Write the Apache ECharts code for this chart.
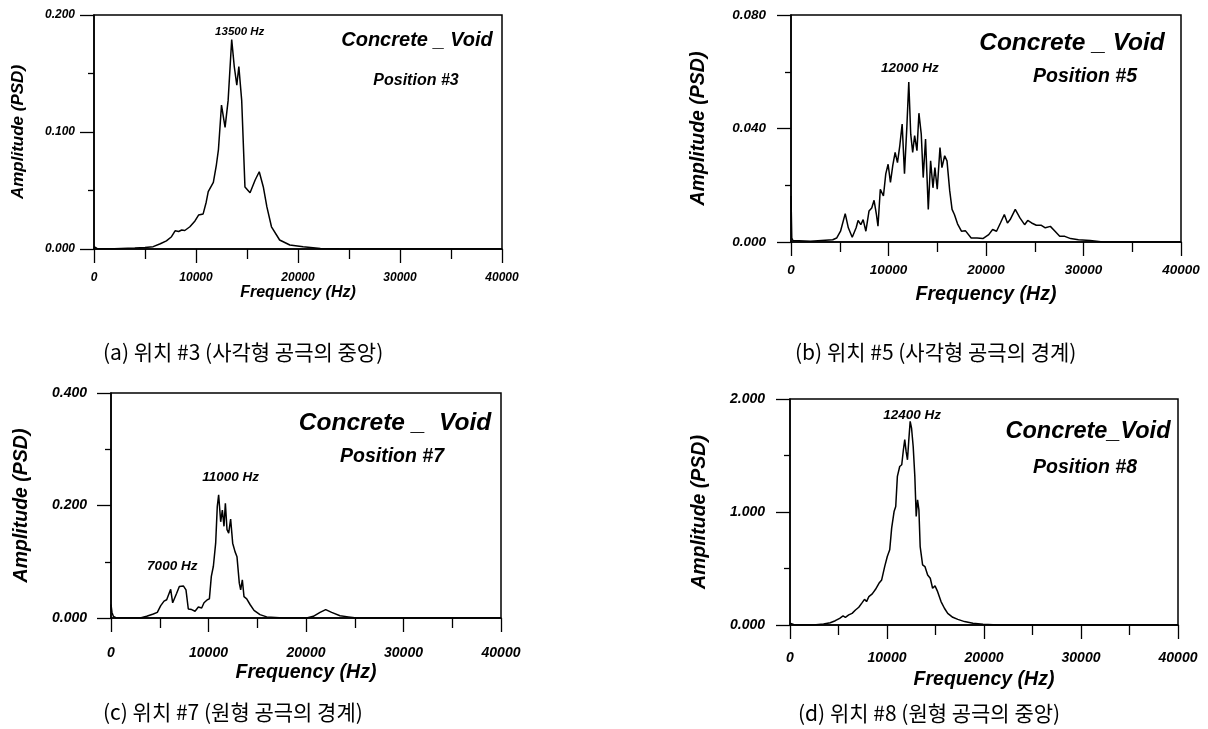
<!DOCTYPE html>
<html>
<head>
<meta charset="utf-8">
<script src="https://cdn.jsdelivr.net/npm/echarts@6/dist/echarts.min.js"></script>
<style>
  html, body { margin: 0; padding: 0; background: #fff; }
  #chart { width: 1208px; height: 729px; }
</style>
</head>
<body>
<div id="chart"></div>
<script>
// (a) position #3
const freqA = [0, 300, 2000, 4000, 5000, 5800, 6500, 7100, 7600, 7950, 8300, 8600, 8900, 9400, 9900,
  10250, 10700, 11000, 11200, 11700, 12000, 12200, 12500, 12850, 13150, 13500, 13750, 14000, 14200, 14480,
  14800, 15300, 15800, 16200, 16600, 16950, 17400, 18200, 19200, 20500, 22200, 24000, 30000, 40000]
const psdA = [0.002, 0.0005, 0.0003, 0.0008, 0.0012, 0.002, 0.0045, 0.007, 0.0105, 0.0155, 0.015, 0.0162, 0.0158, 0.019, 0.024,
  0.029, 0.030, 0.040, 0.049, 0.057, 0.072, 0.085, 0.123, 0.104, 0.127, 0.179, 0.156, 0.140, 0.156, 0.127,
  0.053, 0.048, 0.059, 0.066, 0.053, 0.036, 0.019, 0.0077, 0.0034, 0.002, 0.0005, 0.0002, 0, 0]

// (b) position #5
const freqB = [0, 80, 200, 400, 2000, 4280, 4680, 5080, 5560, 5880,
  6280, 6680, 6880, 7160, 7400, 7680, 8000, 8280, 8520, 8760,
  8920, 9160, 9480, 9720, 9960, 10200, 10440, 10680, 10920, 11160,
  11400, 11640, 11880, 12080, 12280, 12480, 12680, 12920, 13120, 13360,
  13560, 13800, 14080, 14320, 14560, 14760, 15000, 15280, 15480, 15760,
  16000, 16280, 16520, 16760, 17080, 17480, 17880, 18480, 19080, 19680,
  20280, 20680, 21080, 21480, 21880, 22200, 22480, 23000, 23480, 23960,
  24280, 24680, 25160, 25680, 26080, 26600, 27080, 27560, 28080, 28680,
  29480, 30680, 32000, 40000]
const psdB = [0.0162, 0.0014, 0.0005, 0.0003, 0.0003, 0.0008, 0.0014, 0.0038, 0.0100, 0.0050,
  0.0017, 0.0050, 0.0076, 0.0061, 0.0079, 0.0038, 0.0109, 0.0120, 0.0147, 0.0097,
  0.0056, 0.0186, 0.0162, 0.0240, 0.0274, 0.0210, 0.0270, 0.0316, 0.0280, 0.0340,
  0.0416, 0.0241, 0.0404, 0.0564, 0.0380, 0.0316, 0.0375, 0.0322, 0.0454, 0.0380,
  0.0227, 0.0363, 0.0115, 0.0286, 0.0191, 0.0262, 0.0186, 0.0333, 0.0262, 0.0304,
  0.0286, 0.0180, 0.0115, 0.0097, 0.0064, 0.0038, 0.0040, 0.0014, 0.0014, 0.0012,
  0.0026, 0.0044, 0.0038, 0.0067, 0.0097, 0.0067, 0.0079, 0.0115, 0.0085, 0.0061,
  0.0076, 0.0067, 0.0059, 0.0059, 0.0050, 0.0055, 0.0038, 0.0020, 0.0020, 0.0012,
  0.0008, 0.0005, 0, 0]

// (c) position #7
const freqC = [0, 100, 240, 500, 3000, 3660, 4340, 4750, 5100, 5440,
  5710, 5880, 6120, 6325, 6500, 6735, 7010, 7420, 7690, 7930,
  8275, 8620, 8960, 9300, 9540, 9880, 10090, 10290, 10500, 10735,
  10900, 11040, 11250, 11420, 11590, 11730, 11900, 12070, 12270, 12480,
  12720, 12920, 13160, 13300, 13470, 13640, 13920, 14260, 14670, 15280,
  15970, 17700, 20070, 20750, 21440, 22020, 22630, 23490, 24340, 25200, 40000]
const psdC = [0.024, 0.010, 0.003, 0.0005, 0, 0.003, 0.007, 0.010, 0.022, 0.030,
  0.0325, 0.030, 0.051, 0.027, 0.024, 0.044, 0.056, 0.057, 0.050, 0.016,
  0.015, 0.012, 0.0195, 0.0177, 0.027, 0.0325, 0.034, 0.074, 0.092, 0.133,
  0.198, 0.219, 0.171, 0.192, 0.163, 0.204, 0.157, 0.151, 0.176, 0.133,
  0.118, 0.109, 0.062, 0.050, 0.068, 0.038, 0.034, 0.024, 0.0136, 0.006,
  0.002, 0, 0, 0.003, 0.010, 0.015, 0.010, 0.004, 0.002, 0, 0]

// (d) position #8
const freqD = [0, 200, 500, 2420, 3460, 4150, 4670, 5120, 5470, 5710,
  6055, 6400, 6750, 7090, 7440, 7680, 7890, 8130, 8480, 8820,
  9170, 9450, 9760, 10030, 10280, 10480, 10730, 10900, 11070, 11310,
  11520, 11690, 11830, 11970, 12110, 12250, 12390, 12530, 12700, 12870,
  13010, 13150, 13290, 13420, 13670, 13910, 14190, 14460, 14700, 14950,
  15220, 15570, 15920, 16260, 16780, 17300, 17990, 18860, 19900, 21450, 40000]
const psdD = [0.015, 0.005, 0, 0, 0.009, 0.020, 0.038, 0.059, 0.080, 0.068,
  0.089, 0.103, 0.133, 0.157, 0.198, 0.227, 0.207, 0.251, 0.275, 0.316,
  0.369, 0.399, 0.517, 0.606, 0.665, 0.857, 1.004, 1.049, 1.315, 1.403,
  1.418, 1.551, 1.640, 1.536, 1.462, 1.640, 1.802, 1.743, 1.580, 1.315,
  0.960, 1.108, 1.019, 0.694, 0.532, 0.517, 0.443, 0.414, 0.325, 0.346,
  0.295, 0.207, 0.148, 0.103, 0.068, 0.050, 0.030, 0.015, 0.006, 0, 0]

// peak annotations [freq, psd, label]
const peaksA = [[13500, 0.179, '13500 Hz']]
const peaksB = [[12080, 0.0564, '12000 Hz']]
const peaksC = [[11040, 0.219, '11000 Hz'], [7000, 0.056, '7000 Hz']]
const peaksD = [[12390, 1.802, '12400 Hz']]

const yMax = [0.2, 0.08, 0.4, 2.0]
const yStep = [0.1, 0.04, 0.2, 1.0]
const titles = ['Concrete _ Void', 'Concrete _ Void', 'Concrete _  Void', 'Concrete_Void']
const positions = ['Position #3', 'Position #5', 'Position #7', 'Position #8']
const captions = ['(a) 위치 #3 (사각형 공극의 중앙)', '(b) 위치 #5 (사각형 공극의 경계)',
  '(c) 위치 #7 (원형 공극의 경계)', '(d) 위치 #8 (원형 공극의 중앙)']

const FONT = '"Liberation Sans", Arial, sans-serif'

// layout of the 4 panels (pixels)
const panels = [
  { grid: { left: 94, top: 15, width: 408, height: 234 }, tick: 12, xName: 16, yName: 17, xGap: 36, yGap: 67, xMargin: 23, yMargin: 19,
    peakSize: 11.5, peakOff: [[8, -8]], tSize: 20, tPos: [417, 40], pSize: 16, pPos: [416, 81], cap: [103, 352] },
  { grid: { left: 791, top: 15, width: 390, height: 227 }, tick: 13.5, xName: 19.5, yName: 19.5, xGap: 43, yGap: 82, xMargin: 21, yMargin: 25,
    peakSize: 13.5, peakOff: [[1, -14]], tSize: 24.5, tPos: [1072, 43], pSize: 19.5, pPos: [1085, 77], cap: [795, 352] },
  { grid: { left: 111, top: 393, width: 390, height: 225 }, tick: 14, xName: 19.5, yName: 19.5, xGap: 45, yGap: 79, xMargin: 28, yMargin: 24,
    peakSize: 13.5, peakOff: [[12, -18], [-7, -20]], tSize: 24.5, tPos: [395, 423], pSize: 19.5, pPos: [392, 457], cap: [103, 712] },
  { grid: { left: 790, top: 399, width: 388, height: 226 }, tick: 14, xName: 19.5, yName: 19.5, xGap: 45, yGap: 80, xMargin: 26, yMargin: 25,
    peakSize: 13.5, peakOff: [[2, -6]], tSize: 23.5, tPos: [1088, 432], pSize: 19.5, pPos: [1085, 468], cap: [798, 713] }
]

const freqs = [freqA, freqB, freqC, freqD]
const psds = [psdA, psdB, psdC, psdD]
const peaks = [peaksA, peaksB, peaksC, peaksD]

function labelStyle(size) {
  return { color: '#000', fontStyle: 'italic', fontWeight: 'bold', fontFamily: FONT, fontSize: size }
}

let myChart = echarts.init(document.getElementById('chart'))

const grids = [], xAxes = [], yAxes = [], series = [], graphics = []
panels.forEach(function (p, i) {
  grids.push(Object.assign({ show: true, borderColor: '#000', borderWidth: 1.5, backgroundColor: 'transparent' }, p.grid))
  xAxes.push({
    gridIndex: i, type: 'value', min: 0, max: 40000, interval: 10000,
    name: 'Frequency (Hz)', nameLocation: 'middle', nameGap: p.xGap, nameTextStyle: labelStyle(p.xName),
    axisLine: { lineStyle: { color: '#000', width: 1.5 } },
    axisTick: { show: true, length: 14, lineStyle: { color: '#000', width: 1.3 } },
    minorTick: { show: true, splitNumber: 2, length: 10, lineStyle: { color: '#000', width: 1.3 } },
    axisLabel: Object.assign(labelStyle(p.tick), { margin: p.xMargin, formatter: function (v) { return String(v) } }),
    splitLine: { show: false }
  })
  yAxes.push({
    gridIndex: i, type: 'value', min: 0, max: yMax[i], interval: yStep[i],
    name: 'Amplitude (PSD)', nameLocation: 'middle', nameGap: p.yGap, nameTextStyle: labelStyle(p.yName),
    axisLine: { show: true, lineStyle: { color: '#000', width: 1.5 } },
    axisTick: { show: true, length: 14, lineStyle: { color: '#000', width: 1.3 } },
    minorTick: { show: true, splitNumber: 2, length: 6, lineStyle: { color: '#000', width: 1.3 } },
    axisLabel: Object.assign(labelStyle(p.tick), { margin: p.yMargin, formatter: function (v) { return v.toFixed(3) } }),
    splitLine: { show: false }
  })
  series.push({
    type: 'line', xAxisIndex: i, yAxisIndex: i, showSymbol: false, smooth: false,
    data: freqs[i].map(function (f, k) { return [f, psds[i][k]] }),
    lineStyle: { color: '#000', width: 1.5 },
    markPoint: {
      symbol: 'circle', symbolSize: 0, silent: true,
      label: Object.assign(labelStyle(p.peakSize), { show: true, position: 'inside', formatter: '{b}' }),
      data: peaks[i].map(function (pk, k) {
        return { name: pk[2], coord: [pk[0], pk[1]], label: { offset: p.peakOff[k] } }
      })
    }
  })
  graphics.push({
    type: 'text', x: p.tPos[0], y: p.tPos[1],
    style: { text: titles[i], fill: '#000', font: 'italic bold ' + p.tSize + 'px ' + FONT, align: 'center', verticalAlign: 'middle' }
  })
  graphics.push({
    type: 'text', x: p.pPos[0], y: p.pPos[1],
    style: { text: positions[i], fill: '#000', font: 'italic bold ' + p.pSize + 'px ' + FONT, align: 'center', verticalAlign: 'middle' }
  })
  graphics.push({
    type: 'text', x: p.cap[0], y: p.cap[1],
    style: { text: captions[i], fill: '#000', font: '21px "Noto Sans CJK KR", sans-serif', align: 'left', verticalAlign: 'middle' }
  })
})

const option = {
  animation: false,
  backgroundColor: '#fff',
  grid: grids,
  xAxis: xAxes,
  yAxis: yAxes,
  series: series,
  graphic: graphics
}
myChart.setOption(option)
window.addEventListener('resize', function () {
  myChart.resize()
})
</script>
</body>
</html>
